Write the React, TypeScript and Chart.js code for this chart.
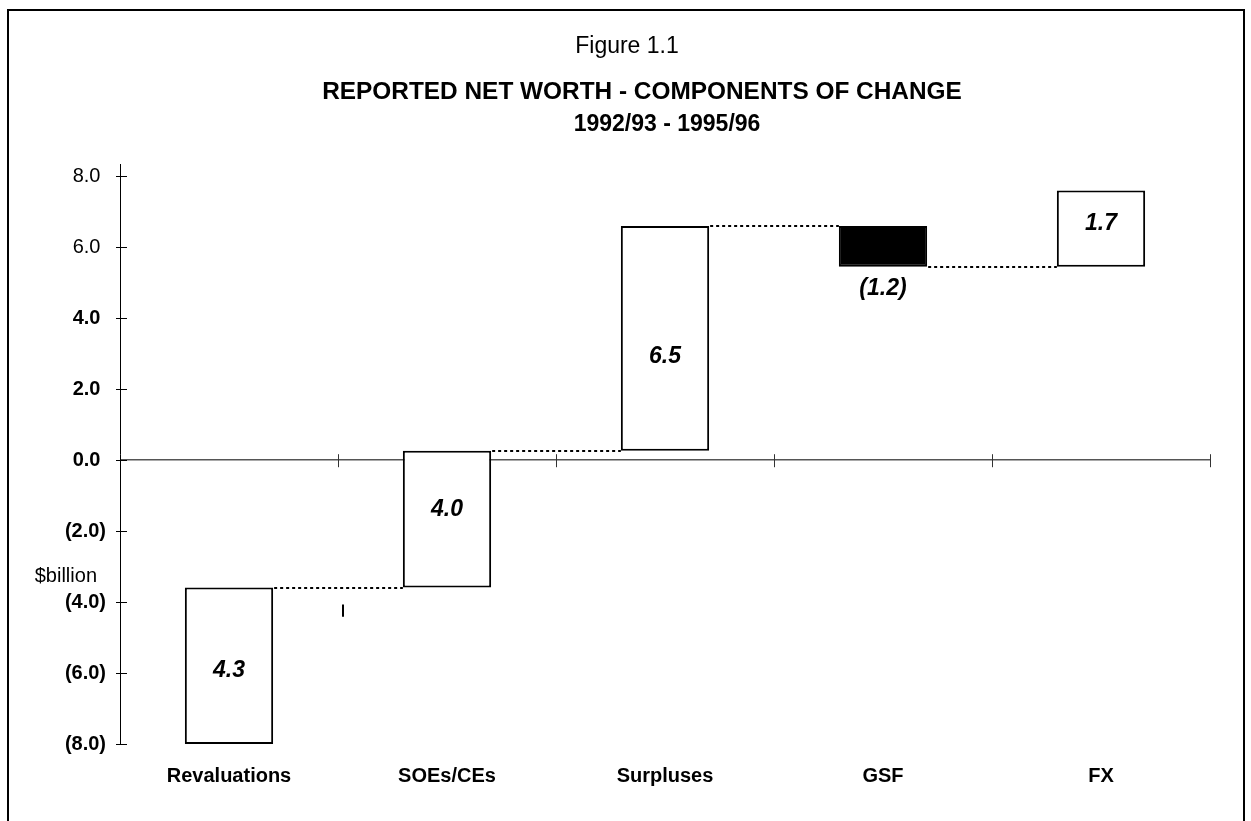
import React, { useEffect, useRef } from "react";
import { Chart, registerables } from "chart.js";

Chart.register(...registerables);

const categories = ["Revaluations", "SOEs/CEs", "Surpluses", "GSF", "FX"];
const barStart = [-8.0, -3.59, 0.27, 6.6, 5.45];
const barEnd = [-3.59, 0.27, 6.6, 5.45, 7.6];
const valueLabels = ["4.3", "4.0", "6.5", "(1.2)", "1.7"];
const labelAt = [-5.92, -1.4, 2.92, 4.85, 6.66];
const barColors = ["#ffffff", "#ffffff", "#ffffff", "#000000", "#ffffff"];
const yTicks = [-8, -6, -4, -2, 0, 2, 4, 6, 8];
const titleLines = [
  "Figure 1.1",
  "REPORTED NET WORTH - COMPONENTS OF CHANGE",
  "1992/93 - 1995/96",
];
const yAxisLabel = "$billion";

const FONT = "'Liberation Sans', Arial, Helvetica, sans-serif";

const fmt = (v: number) =>
  v < 0 ? `(${Math.abs(v).toFixed(1)})` : `${v.toFixed(1)} `;

const decor = {
  id: "decor",
  beforeDraw(chart: any) {
    const ctx = chart.ctx;
    ctx.save();
    ctx.fillStyle = "#ffffff";
    ctx.fillRect(0, 0, chart.width, chart.height);
    ctx.restore();
  },
  afterDraw(chart: any) {
    const ctx = chart.ctx;
    const xs = chart.scales.x;
    const ys = chart.scales.y;
    const area = chart.chartArea;
    ctx.save();

    // frame
    ctx.strokeStyle = "#000";
    ctx.lineWidth = 2;
    ctx.beginPath();
    ctx.moveTo(8, chart.height + 5);
    ctx.lineTo(8, 10);
    ctx.lineTo(1244, 10);
    ctx.lineTo(1244, chart.height + 5);
    ctx.stroke();

    // titles
    ctx.fillStyle = "#000";
    ctx.textAlign = "center";
    ctx.textBaseline = "middle";
    ctx.font = `23px ${FONT}`;
    ctx.fillText(titleLines[0], 627, 47);
    ctx.font = `bold 24.4px ${FONT}`;
    ctx.fillText(titleLines[1], 642, 92);
    ctx.font = `bold 23px ${FONT}`;
    ctx.fillText(titleLines[2], 667, 125);

    // y axis label
    ctx.font = `20px ${FONT}`;
    ctx.textAlign = "right";
    ctx.fillText(yAxisLabel, 97, 576);

    // y tick marks crossing the axis
    ctx.lineWidth = 1;
    ctx.strokeStyle = "#000";
    yTicks.forEach((v) => {
      const y = Math.round(ys.getPixelForValue(v)) + 0.5;
      ctx.beginPath();
      ctx.moveTo(area.left - 4, y);
      ctx.lineTo(area.left + 7, y);
      ctx.stroke();
    });

    // category boundary marks on the zero line
    const y0 = ys.getPixelForValue(0);
    ctx.strokeStyle = "#333";
    for (let i = 0; i < categories.length; i++) {
      const xb =
        i < categories.length - 1
          ? (xs.getPixelForValue(i) + xs.getPixelForValue(i + 1)) / 2
          : area.right;
      const xx = Math.round(xb) + 0.5;
      ctx.beginPath();
      ctx.moveTo(xx, y0 - 6);
      ctx.lineTo(xx, y0 + 7);
      ctx.stroke();
    }

    // small stray mark
    const xm = Math.round((xs.getPixelForValue(0) + xs.getPixelForValue(1)) / 2 + 5);
    ctx.lineWidth = 2;
    ctx.strokeStyle = "#000";
    ctx.beginPath();
    ctx.moveTo(xm, ys.getPixelForValue(-4.07));
    ctx.lineTo(xm, ys.getPixelForValue(-4.41));
    ctx.stroke();

    // connectors
    const meta = chart.getDatasetMeta(0);
    ctx.setLineDash([3, 3]);
    ctx.lineWidth = 2;
    ctx.strokeStyle = "#000";
    for (let i = 0; i < categories.length - 1; i++) {
      const a = meta.data[i];
      const b = meta.data[i + 1];
      const y = Math.round(ys.getPixelForValue(barEnd[i]));
      ctx.beginPath();
      ctx.moveTo(a.x + a.width / 2 + 1, y);
      ctx.lineTo(b.x - b.width / 2, y);
      ctx.stroke();
    }
    ctx.setLineDash([]);

    // value labels
    ctx.font = `italic bold 23px ${FONT}`;
    ctx.textAlign = "center";
    ctx.textBaseline = "middle";
    ctx.fillStyle = "#000";
    for (let i = 0; i < categories.length; i++) {
      const el = meta.data[i];
      ctx.fillText(valueLabels[i], el.x, ys.getPixelForValue(labelAt[i]));
    }
    ctx.restore();
  },
};

export default function App() {
  const ref = useRef<HTMLCanvasElement | null>(null);

  useEffect(() => {
    if (!ref.current) return;
    const chart = new Chart(ref.current, {
      type: "bar",
      data: {
        labels: categories,
        datasets: [
          {
            data: categories.map((_, i) => [barStart[i], barEnd[i]]) as any,
            backgroundColor: barColors,
            borderColor: "#000",
            borderWidth: 2,
            borderSkipped: false,
            barPercentage: 0.405,
            categoryPercentage: 1,
          },
        ],
      },
      options: {
        responsive: false,
        maintainAspectRatio: false,
        animation: false,
        layout: { padding: { top: 164, right: 41, bottom: 0, left: 0 } },
        plugins: {
          legend: { display: false },
          tooltip: { enabled: false },
          title: { display: false },
        },
        scales: {
          x: {
            grid: { display: false, drawTicks: false },
            border: { display: false },
            ticks: {
              padding: 20,
              color: "#000",
              font: { family: FONT, size: 20, weight: "bold" },
            },
            afterFit: (s: any) => {
              s.height = 77;
            },
          },
          y: {
            min: -8,
            max: 8.35,
            afterBuildTicks: (axis: any) => {
              axis.ticks = yTicks.map((v) => ({ value: v }));
            },
            grid: {
              drawTicks: false,
              color: (c: any) =>
                c.tick && c.tick.value === 0 ? "#555" : "rgba(0,0,0,0)",
              lineWidth: 1.5,
            },
            border: { color: "#000", width: 1 },
            ticks: {
              padding: 14,
              color: "#000",
              font: (c: any) => ({
                family: FONT,
                size: 20,
                weight: c.tick && c.tick.value > 4 ? "normal" : "bold",
              }),
              callback: (v: any) => fmt(Number(v)),
            },
            afterFit: (s: any) => {
              s.width = 120;
            },
          },
        },
      },
      plugins: [decor],
    });
    return () => chart.destroy();
  }, []);

  return (
    <div style={{ position: "absolute", left: 0, top: 0, width: 1251, height: 821 }}>
      <canvas ref={ref} width={1251} height={821} style={{ display: "block" }} />
    </div>
  );
}
